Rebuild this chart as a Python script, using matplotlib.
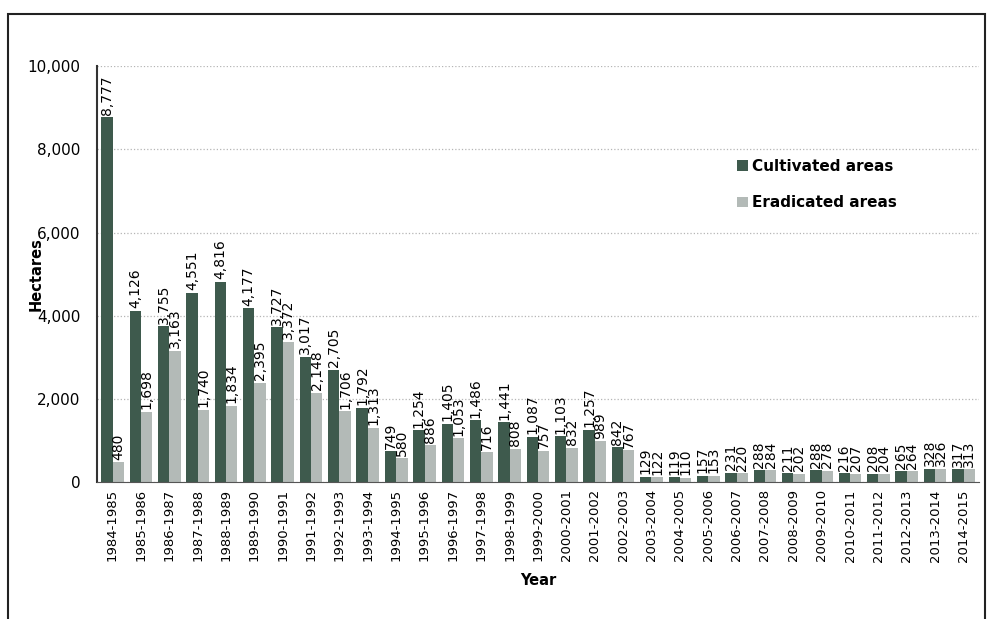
import matplotlib.pyplot as plt
import matplotlib.patches as patches
import numpy as np

# Data
years = ["1984-1985", "1985-1986", "1986-1987", "1987-1988", "1988-1989",
         "1989-1990", "1990-1991", "1991-1992", "1992-1993", "1993-1994",
         "1994-1995", "1995-1996", "1996-1997", "1997-1998", "1998-1999",
         "1999-2000", "2000-2001", "2001-2002", "2002-2003", "2003-2004",
         "2004-2005", "2005-2006", "2006-2007", "2007-2008", "2008-2009",
         "2009-2010", "2010-2011", "2011-2012", "2012-2013", "2013-2014",
         "2014-2015"]
cultivated = [8777, 4126, 3755, 4551, 4816, 4177, 3727, 3017, 2705, 1792,
              749, 1254, 1405, 1486, 1441, 1087, 1103, 1257, 842, 129,
              119, 157, 231, 288, 211, 288, 216, 208, 265, 328, 317]
eradicated = [480, 1698, 3163, 1740, 1834, 2395, 3372, 2148, 1706, 1313,
              580, 886, 1053, 716, 808, 757, 832, 989, 767, 122,
              110, 153, 220, 284, 202, 278, 207, 204, 264, 326, 313]

plt.rcParams['font.family'] = ['DejaVu Sans']

fig = plt.figure(figsize=(9.89, 6.19), dpi=100)
ax = fig.add_axes([0.098, 0.221, 0.892, 0.672])

x = np.arange(len(years))
w = 0.4
b1 = ax.bar(x - w / 2, cultivated, w, color='#3e5a4d', label='Cultivated areas')
b2 = ax.bar(x + w / 2, eradicated, w, color='#b3bab7', label='Eradicated areas')

for bars in (b1, b2):
    for r in bars:
        v = r.get_height()
        ax.text(r.get_x() + r.get_width() / 2, v + 60, f"{v:,.0f}",
                rotation=90, ha='center', va='bottom', fontsize=10)

ax.set_xlim(-0.55, len(years) - 0.45)
ax.set_ylim(0, 10000)
ax.set_yticks(range(0, 10001, 2000))
ax.set_yticklabels([f"{v:,}" for v in range(0, 10001, 2000)], fontsize=11)
ax.set_xticks(x)
ax.set_xticklabels(years, rotation=90, fontsize=9.5)
ax.tick_params(axis='both', length=0, pad=12)
ax.tick_params(axis='x', pad=5)

ax.grid(True, axis='y', color='#b5b5b5', linestyle=':', linewidth=0.9)
ax.set_axisbelow(True)
for s in ['top', 'right']:
    ax.spines[s].set_visible(False)
ax.spines['left'].set_color('#333333')
ax.spines['left'].set_linewidth(1.5)
ax.spines['bottom'].set_color('#555555')

ax.set_ylabel("Hectares", fontweight='bold', fontsize=10.5)
ax.yaxis.set_label_coords(-0.06, 0.5)
ax.set_xlabel("Year", fontweight='bold', fontsize=10.5, labelpad=8)

ax.legend(loc='upper left', bbox_to_anchor=(0.71, 0.81), frameon=False,
          prop={'weight': 'bold', 'size': 11}, handlelength=0.7,
          handleheight=0.7, handletextpad=0.3, labelspacing=1.4)

# outer frame like the scanned page
fig.patches.append(patches.Rectangle((0.008, -0.01), 0.988, 0.988,
                                     transform=fig.transFigure, fill=False,
                                     edgecolor='#222222', linewidth=1.5))

fig.savefig("out.png", dpi=100)
